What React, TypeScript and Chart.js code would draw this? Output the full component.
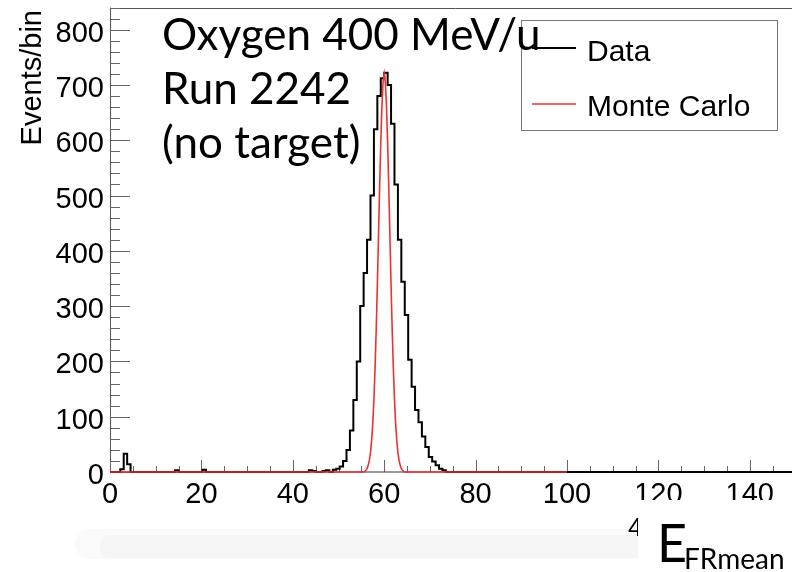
import React, { useEffect, useRef } from "react";
import { Chart, registerables } from "chart.js";
Chart.register(...registerables);

// ---------- data ----------
const X_MIN = 0;
const X_MAX = 150;
const Y_MIN = 0;
const Y_MAX = 840;
const BIN_WIDTH = 0.75;

// Data histogram: non-empty bins (lower edge, count)
const dataBinEdges = [
  2.25, 3.0, 3.75, 14.25, 20.25, 43.5, 44.25, 46.5, 47.25, 48.75, 49.5, 50.25, 51, 51.75, 52.5,
  53.25, 54, 54.75, 55.5, 56.25, 57, 57.75, 58.5, 59.25, 60, 60.75, 61.5, 62.25, 63, 63.75,
  64.5, 65.25, 66, 66.75, 67.5, 68.25, 69, 69.75, 70.5, 71.25, 72, 72.75,
];
const dataBinCounts = [
  5, 33, 14, 3, 4, 3, 2, 2, 3, 4, 6, 10, 20, 40, 75,
  130, 200, 300, 360, 420, 500, 620, 680, 712, 722, 700, 630, 520, 420, 344,
  284, 203, 154, 112, 90, 64, 45, 27, 19, 12, 6, 3,
];

// Monte Carlo curve
const mcX = [
  0, 55.5, 55.75, 56, 56.25, 56.5, 56.75, 57, 57.25, 57.5, 57.75, 58, 58.25, 58.5, 58.75, 59,
  59.25, 59.5, 59.75, 60, 60.25, 60.5, 60.75, 61, 61.25, 61.5, 61.75, 62, 62.25, 62.5, 62.75,
  63, 63.25, 63.5, 63.75, 64, 64.25, 64.5, 100,
];
const mcY = [
  0, 0, 1, 3, 6, 12, 21, 35, 57, 88, 131, 188, 257, 338, 426, 515,
  596, 662, 705, 720, 705, 662, 596, 515, 426, 338, 257, 188, 131, 88, 57,
  35, 21, 12, 6, 3, 1, 0, 0,
];

const xTickLabels = [0, 20, 40, 60, 80, 100, 120, 140];
const yTickLabels = [0, 100, 200, 300, 400, 500, 600, 700, 800];
const titleLines = ["Oxygen 400 MeV/u", "Run 2242", "(no target)"];
const legendLabels = ["Data", "Monte Carlo"];
const yAxisTitle = "Events/bin";
const xAxisTitleMain = "E";
const xAxisTitleSub = "FRmean";
const hiddenFragment = "4";

// points at bin lower edges; with stepped "before" each value holds until the next point
function histPoints() {
  const pts: { x: number; y: number }[] = [{ x: X_MIN, y: 0 }];
  let prevEnd = X_MIN;
  for (let i = 0; i < dataBinEdges.length; i++) {
    const e = dataBinEdges[i];
    if (Math.abs(e - prevEnd) > 1e-6) pts.push({ x: prevEnd, y: 0 });
    pts.push({ x: e, y: dataBinCounts[i] });
    prevEnd = e + BIN_WIDTH;
  }
  pts.push({ x: prevEnd, y: 0 });
  pts.push({ x: X_MAX, y: 0 });
  return pts;
}

const HELV = '"Liberation Sans", Arial, Helvetica, sans-serif';
const GILL = 'Lato, "Open Sans", sans-serif';

const rootPlugin = {
  id: "rootStyle",
  beforeDatasetsDraw(chart: any) {
    const ctx = chart.ctx;
    const { left, right, top, bottom } = chart.chartArea;
    const xs = chart.scales.x;
    const ys = chart.scales.y;
    ctx.save();
    ctx.strokeStyle = "#555";
    ctx.lineWidth = 1;
    ctx.beginPath();
    ctx.moveTo(left, Math.round(top) + 0.5);
    ctx.lineTo(right + 10, Math.round(top) + 0.5);
    ctx.moveTo(Math.round(left) + 0.5, top);
    ctx.lineTo(Math.round(left) + 0.5, bottom);
    ctx.stroke();
    ctx.strokeStyle = "#666";
    ctx.beginPath();
    for (let v = Y_MIN; v <= Y_MAX; v += 20) {
      const len = v % 100 === 0 ? 20 : 10;
      const py = Math.round(ys.getPixelForValue(v)) + 0.5;
      ctx.moveTo(left, py);
      ctx.lineTo(left + len, py);
    }
    for (let v = X_MIN; v <= X_MAX; v += 5) {
      const len = v % 20 === 0 ? 12 : 6;
      const px = Math.round(xs.getPixelForValue(v)) + 0.5;
      ctx.moveTo(px, bottom);
      ctx.lineTo(px, bottom - len);
    }
    ctx.stroke();
    ctx.strokeStyle = "#333";
    ctx.lineWidth = 1;
    ctx.beginPath();
    ctx.moveTo(left, bottom);
    ctx.lineTo(right + 10, bottom);
    ctx.stroke();
    ctx.restore();
  },
  afterDraw(chart: any) {
    const ctx = chart.ctx;
    const { left, bottom } = chart.chartArea;
    const xs = chart.scales.x;
    const ys = chart.scales.y;
    ctx.save();
    ctx.fillStyle = "#000";
    ctx.font = `29px ${HELV}`;
    ctx.textAlign = "right";
    ctx.textBaseline = "alphabetic";
    for (const v of yTickLabels) {
      const py = ys.getPixelForValue(v);
      ctx.fillText(String(v), left - 6, py + 12);
    }
    ctx.textAlign = "center";
    for (const v of xTickLabels) {
      ctx.fillText(String(v), xs.getPixelForValue(v), bottom + 31);
    }
    ctx.save();
    ctx.translate(41, 10);
    ctx.rotate(-Math.PI / 2);
    ctx.textAlign = "right";
    ctx.font = `29px ${HELV}`;
    ctx.fillText(yAxisTitle, 0, 0);
    ctx.restore();

    // legend box
    ctx.fillStyle = "#fff";
    ctx.fillRect(521, 20, 257, 111);
    ctx.strokeStyle = "#777";
    ctx.lineWidth = 1;
    ctx.strokeRect(521.5, 20.5, 256, 110);
    ctx.lineWidth = 2;
    ctx.strokeStyle = "#000";
    ctx.beginPath();
    ctx.moveTo(532, 48);
    ctx.lineTo(576, 48);
    ctx.stroke();
    ctx.lineWidth = 1.6;
    ctx.strokeStyle = "#f03030";
    ctx.beginPath();
    ctx.moveTo(532, 104);
    ctx.lineTo(576, 104);
    ctx.stroke();
    ctx.fillStyle = "#000";
    ctx.textAlign = "left";
    ctx.font = `30px ${HELV}`;
    ctx.fillText(legendLabels[0], 587, 61);
    ctx.fillText(legendLabels[1], 587, 116);

    // title text
    ctx.font = `44px ${GILL}`;
    const baselines = [50, 104, 158];
    titleLines.forEach((t, i) => ctx.fillText(t, 162, baselines[i]));

    // slide overlays at the bottom
    ctx.fillStyle = "#fff";
    ctx.fillRect(630, 500, 200, 72);
    ctx.fillStyle = "#fafafa";
    ctx.beginPath();
    (ctx as any).roundRect(75, 529, 563, 30, [16, 0, 0, 16]);
    ctx.fill();
    ctx.fillStyle = "#f5f5f5";
    ctx.beginPath();
    (ctx as any).roundRect(100, 535, 538, 23, [10, 0, 0, 10]);
    ctx.fill();
    ctx.save();
    ctx.beginPath();
    ctx.rect(620, 505, 18, 40);
    ctx.clip();
    ctx.fillStyle = "#000";
    ctx.font = `26px ${HELV}`;
    ctx.fillText(hiddenFragment, 628, 536);
    ctx.restore();
    ctx.fillStyle = "#000";
    ctx.font = `52px ${GILL}`;
    ctx.fillText(xAxisTitleMain, 657, 562);
    ctx.font = `28px ${GILL}`;
    ctx.fillText(xAxisTitleSub, 684, 569);
    ctx.restore();
  },
};

export default function App() {
  const ref = useRef<HTMLCanvasElement>(null);
  useEffect(() => {
    const canvas = ref.current!;
    const chart = new Chart(canvas, {
      type: "line",
      data: {
        datasets: [
          {
            label: legendLabels[1],
            data: mcX.map((x, i) => ({ x, y: mcY[i] })),
            borderColor: "#f03030",
            borderWidth: 1.6,
            pointRadius: 0,
            tension: 0,
            fill: false,
            order: 0,
            clip: 6,
          } as any,
          {
            label: legendLabels[0],
            data: histPoints(),
            borderColor: "#000",
            borderWidth: 2,
            pointRadius: 0,
            stepped: "before",
            fill: false,
            order: 1,
            clip: 6,
          } as any,
        ],
      },
      options: {
        responsive: false,
        animation: false,
        devicePixelRatio: 1,
        layout: { padding: { left: 0, right: 4.5, top: 7.5, bottom: 0 } },
        plugins: { legend: { display: false }, tooltip: { enabled: false }, title: { display: false } },
        scales: {
          x: {
            type: "linear",
            min: X_MIN,
            max: X_MAX,
            ticks: { display: false },
            grid: { display: false },
            border: { display: false },
            afterFit: (s: any) => {
              s.height = 100;
            },
          },
          y: {
            type: "linear",
            min: Y_MIN,
            max: Y_MAX,
            ticks: { display: false },
            grid: { display: false },
            border: { display: false },
            afterFit: (s: any) => {
              s.width = 110;
            },
          },
        },
      },
      plugins: [rootPlugin],
    });
    return () => chart.destroy();
  }, []);
  return (
    <div style={{ position: "fixed", left: 0, top: 0, width: 792, height: 572, overflow: "hidden", background: "#fff" }}>
      <canvas ref={ref} width={800} height={572} style={{ display: "block", width: 800, height: 572 }} />
    </div>
  );
}
